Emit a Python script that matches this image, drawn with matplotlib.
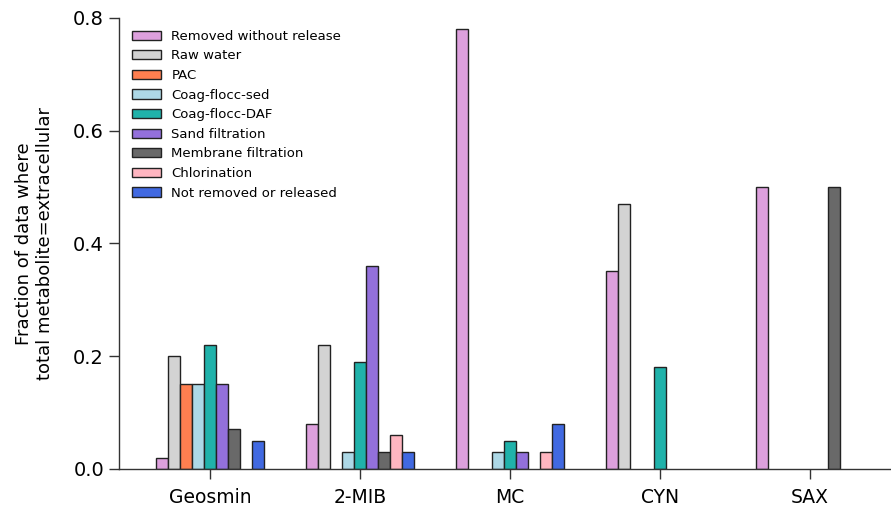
import numpy as np
import matplotlib
matplotlib.use("Agg")
import matplotlib.pyplot as plt

# metabolites on the x axis
metabolites = ["Geosmin", "2-MIB", "MC", "CYN", "SAX"]

# fraction of data where total metabolite = extracellular, per treatment step
removed_wo_release = [0.02, 0.08, 0.78, 0.35, 0.50]
raw_water          = [0.20, 0.22, 0.00, 0.47, 0.00]
pac                = [0.15, 0.00, 0.00, 0.00, 0.00]
coag_sed           = [0.15, 0.03, 0.03, 0.00, 0.00]
coag_daf           = [0.22, 0.19, 0.05, 0.18, 0.00]
sand_filt          = [0.15, 0.36, 0.03, 0.00, 0.00]
membrane_filt      = [0.07, 0.03, 0.00, 0.00, 0.50]
chlorination       = [0.00, 0.06, 0.03, 0.00, 0.00]
not_removed        = [0.05, 0.03, 0.08, 0.00, 0.00]

series = [
    ("Removed without release", removed_wo_release, "plum"),
    ("Raw water", raw_water, "lightgray"),
    ("PAC", pac, "coral"),
    ("Coag-flocc-sed", coag_sed, "lightblue"),
    ("Coag-flocc-DAF", coag_daf, "lightseagreen"),
    ("Sand filtration", sand_filt, "mediumpurple"),
    ("Membrane filtration", membrane_filt, "dimgray"),
    ("Chlorination", chlorination, "lightpink"),
    ("Not removed or released", not_removed, "royalblue"),
]

fig = plt.figure(figsize=(8.91, 5.09), dpi=100)
ax = fig.add_axes([0.134, 0.079, 0.866, 0.886])

x = np.arange(len(metabolites))
w = 0.08
n = len(series)
for i, (name, vals, col) in enumerate(series):
    vals = np.array(vals)
    # zero bars are skipped but still take their slot in the group
    h = np.where(vals > 0, vals, np.nan)
    ax.bar(x + (i - (n - 1) / 2) * w, h, w, color=col, edgecolor="#222222",
           linewidth=1.0, label=name)

ax.set_xticks(x)
ax.set_xticklabels(metabolites, fontsize=13.5)
ax.set_xlim(-0.607, 4.54)
ax.set_ylim(0, 0.8)
ax.set_yticks([0, 0.2, 0.4, 0.6, 0.8])
ax.set_yticklabels(["0.0", "0.2", "0.4", "0.6", "0.8"], fontsize=14)
ax.tick_params(length=7.5, width=1.0, color="#333333")
ax.tick_params(axis="x", pad=6)
ax.set_ylabel("Fraction of data where\ntotal metabolite=extracellular",
              fontsize=13, labelpad=14)

for s in ["top", "right"]:
    ax.spines[s].set_visible(False)
for s in ["left", "bottom"]:
    ax.spines[s].set_linewidth(1.0)
    ax.spines[s].set_color("#333333")

ax.legend(loc="upper left", bbox_to_anchor=(0.004, 0.994), frameon=False,
          fontsize=9.5, handlelength=2.2, handleheight=0.7,
          labelspacing=0.5, borderaxespad=0.3, handletextpad=0.8)

fig.savefig("out.png", dpi=100)
